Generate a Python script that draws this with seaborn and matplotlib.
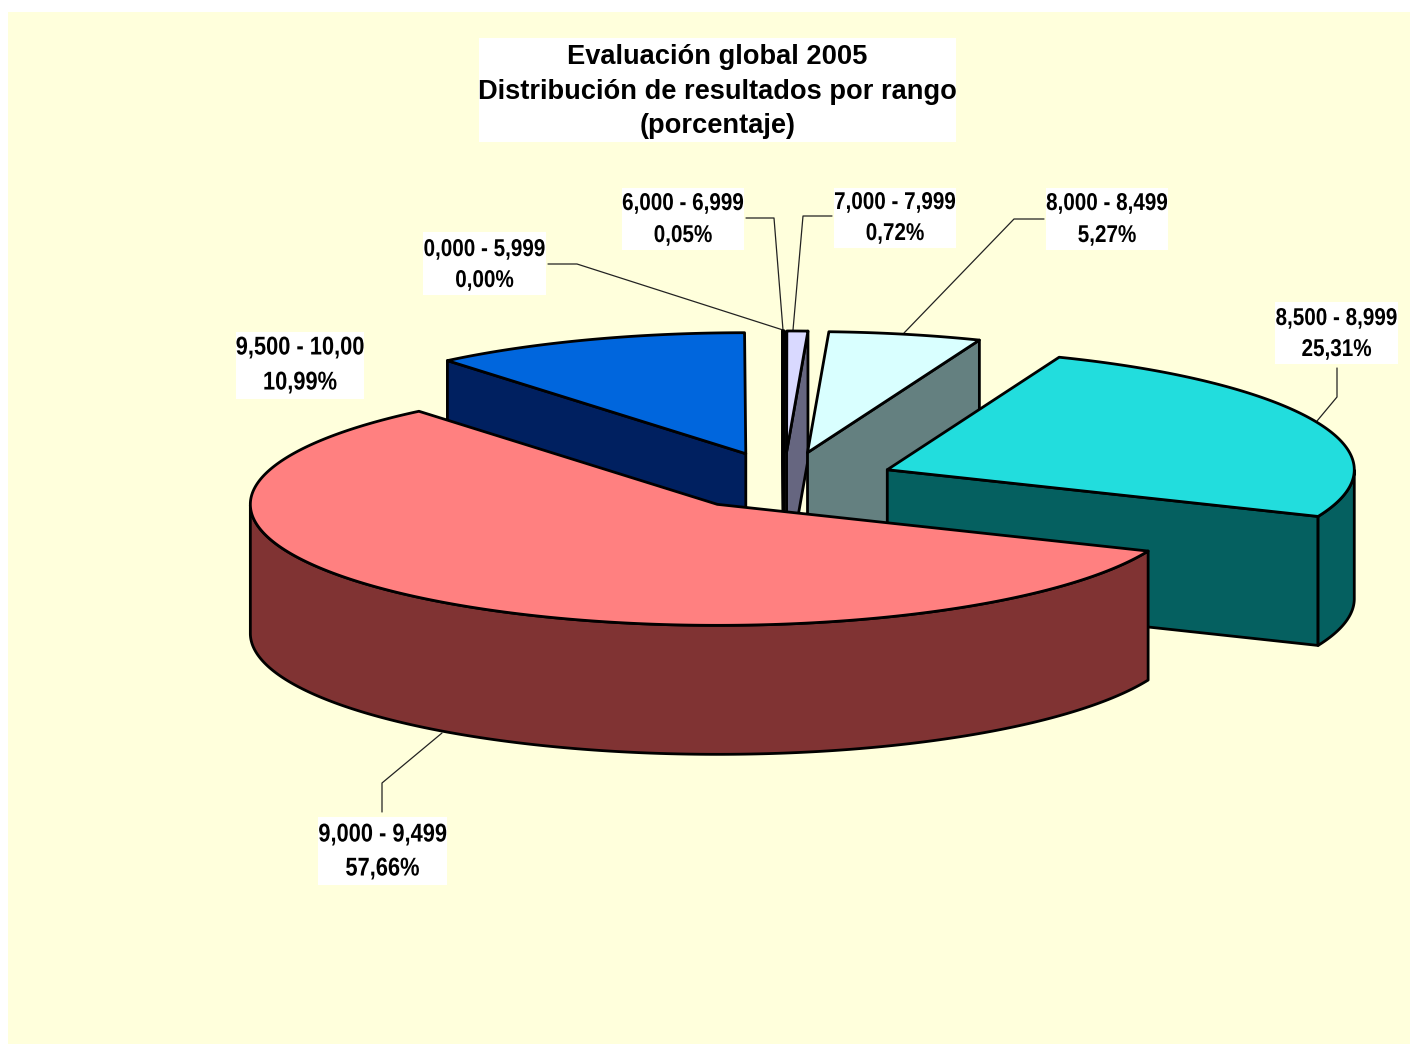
import numpy as np
import matplotlib
matplotlib.use("Agg")
import matplotlib.pyplot as plt
from matplotlib.patches import Rectangle
from matplotlib.patheffects import AbstractPathEffect
from matplotlib.transforms import Affine2D
import seaborn as sns

# Values
rangos = ["0,000 - 5,999", "6,000 - 6,999", "7,000 - 7,999", "8,000 - 8,499",
          "8,500 - 8,999", "9,000 - 9,499", "9,500 - 10,00"]
porcentajes = [0.00, 0.05, 0.72, 5.27, 25.31, 57.66, 10.99]
titulo = ["Evaluación global 2005", "Distribución de resultados por rango", "(porcentaje)"]

# Colours
top_colors = sns.color_palette(["#D9D9FF", "#D9D9FF", "#D9D9FF", "#D9FFFF", "#22DDDD", "#FF8080", "#0066DD"])
side_colors = sns.color_palette(["#666680", "#666680", "#666680", "#648080", "#056060", "#803333", "#002060"])

# Pie geometry in pixels
cx, cy = 784, 481
rx, ry = 467, 121
depth = 129
explode = 0.24
start_angle = 90.15
lw = 2.0
draw_order = [0, 1, 2, 3, 6, 4, 5]

# Label boxes: left, right, top, bottom, y of line 1, y of line 2
boxes = [(423, 546, 232, 295, 248, 279), (622, 744, 188, 250, 202, 234),
         (834, 956, 188, 248, 201, 232), (1046, 1168, 188, 250, 202, 234),
         (1275, 1398, 302, 364, 317, 348), (318, 447, 817, 885, 833, 867),
         (236, 364, 332, 399, 346, 381)]
leaders = [[(548, 264), (577, 264), (783, 330)],
           [(746, 218), (774, 218), (783, 330)],
           [(832, 216), (803, 216), (793, 330)],
           [(1044, 219), (1014, 219), (904, 333)],
           [(1337, 368), (1337, 397), (1317, 421)],
           [(382, 812), (382, 783), (442, 733)]]


# No narrow font installed, so squeeze the glyphs sideways around the label centre
class Narrow(AbstractPathEffect):
    def __init__(self, xc, sx):
        super().__init__()
        self.squeeze = Affine2D().translate(-xc, 0).scale(sx, 1).translate(xc, 0)

    def draw_path(self, renderer, gc, tpath, affine, rgbFace=None):
        renderer.draw_path(gc, tpath, affine + self.squeeze, rgbFace)


sns.set_theme(style="white")
plt.rcParams["font.family"] = ["Liberation Sans"]

fig = plt.figure(figsize=(14.10, 10.44), dpi=100, facecolor="white")
ax = fig.add_axes([0, 0, 1, 1])
ax.set_xlim(0, 1410)
ax.set_ylim(1044, 0)
ax.axis("off")
ax.add_patch(Rectangle((8, 12), 1402, 1032, facecolor="#FFFFDC", edgecolor="none", zorder=0))

for line in leaders:
    xs, ys = zip(*line)
    ax.plot(xs, ys, color="#222222", lw=0.9, zorder=1)

# Slices run clockwise from 12 o'clock
ends = start_angle - np.cumsum(porcentajes) * 3.6
starts = np.r_[start_angle, ends[:-1]]


def point(x0, y0, ang):
    t = np.radians(ang)
    return x0 + rx * np.cos(t), y0 - ry * np.sin(t)


zo = 2
for i in draw_order:
    a0, a1 = starts[i], ends[i]
    mid = np.radians((a0 + a1) / 2)
    x0 = cx + explode * rx * np.cos(mid)
    y0 = cy - explode * ry * np.sin(mid)
    style = dict(edgecolor="black", lw=lw, joinstyle="round", zorder=zo)

    # flat cut faces that look towards the viewer
    for ang, normal in [(a0, a0 + 90), (a1, a1 - 90)]:
        if np.sin(np.radians(normal)) < 0:
            ex, ey = point(x0, y0, ang)
            ax.fill([x0, ex, ex, x0], [y0, ey, ey + depth, y0 + depth],
                    facecolor=side_colors[i], **style)

    # outer wall, only the front half of the rim shows
    arc = np.linspace(a1, a0, 300)
    front = arc[np.sin(np.radians(arc)) <= 0]
    if len(front) > 1:
        wx, wy = point(x0, y0, front)
        ax.fill(np.r_[wx, wx[::-1]], np.r_[wy, wy[::-1] + depth],
                facecolor=side_colors[i], **style)

    # top
    tx, ty = point(x0, y0, arc)
    ax.fill(np.r_[x0, tx], np.r_[y0, ty], facecolor=top_colors[i], **style)
    zo += 1

# Title
ax.add_patch(Rectangle((479, 38), 477, 104, facecolor="white", edgecolor="none", zorder=20))
for txt, y in zip(titulo, [57, 92, 126]):
    ax.text(717.5, y, txt, ha="center", va="center", fontsize=19.6, fontweight="bold",
            color="black", zorder=21)

# Data labels
for nombre, pct, box in zip(rangos, porcentajes, boxes):
    left, right, top, bottom, y1, y2 = box
    ax.add_patch(Rectangle((left, top), right - left, bottom - top, facecolor="white",
                           edgecolor="none", zorder=20))
    xm = (left + right) / 2
    size = 18.5 if right - left > 125 else 17.5
    squeeze = [Narrow(xm, 0.85)]
    ax.text(xm, y1 + 1.5, nombre, ha="center", va="center", fontsize=size, fontweight="bold",
            color="black", zorder=21, path_effects=squeeze)
    ax.text(xm, y2 + 1.5, f"{pct:.2f}%".replace(".", ","), ha="center", va="center", fontsize=size,
            fontweight="bold", color="black", zorder=21, path_effects=squeeze)

fig.savefig("out.png", dpi=100, facecolor="white")
